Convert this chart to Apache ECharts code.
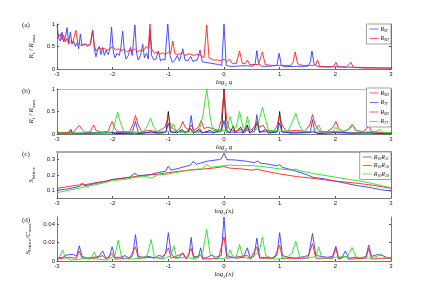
<!DOCTYPE html>
<html><head><meta charset="utf-8">
<script src="https://cdn.jsdelivr.net/npm/echarts@6/dist/echarts.min.js"></script>
<style>html,body{margin:0;padding:0;background:#fff}#c{width:433px;height:296px}</style>
</head><body><div id="c"></div>
<script>
// ---------- DATA (log2 q / log2 x, value) ----------
const xTicks = [-3,-2,-1,0,1,2,3];
const aBlue = [[-3.00,0.98],[-2.97,0.68],[-2.94,0.62],[-2.91,0.82],[-2.88,0.6],[-2.85,0.7],[-2.82,0.92],[-2.79,0.58],[-2.76,0.82],[-2.73,0.55],[-2.7,0.62],[-2.67,0.5],[-2.64,0.58],[-2.61,0.45],[-2.58,0.78],[-2.55,0.52],[-2.5,0.55],[-2.45,0.5],[-2.4,0.55],[-2.36,0.86],[-2.33,0.45],[-2.3,0.27],[-2.27,0.42],[-2.24,0.5],[-2.21,0.32],[-2.18,0.48],[-2.15,0.3],[-2.12,0.42],[-2.08,0.32],[-2.05,0.45],[-2.02,0.93],[-1.99,0.4],[-1.96,0.25],[-1.92,0.35],[-1.88,0.3],[-1.85,0.5],[-1.82,0.84],[-1.79,0.4],[-1.76,0.22],[-1.72,0.3],[-1.68,0.48],[-1.65,0.3],[-1.6,0.98],[-1.57,0.35],[-1.54,0.2],[-1.5,0.3],[-1.46,0.55],[-1.43,0.25],[-1.39,0.35],[-1.36,0.22],[-1.33,0.85],[-1.3,0.3],[-1.26,0.2],[-1.22,0.22],[-1.18,0.4],[-1.14,0.18],[-1.1,0.22],[-1.06,0.2],[-1.01,1.0],[-0.97,0.3],[-0.93,0.15],[-0.88,0.2],[-0.84,0.3],[-0.8,0.18],[-0.74,0.45],[-0.7,0.2],[-0.65,0.18],[-0.6,0.28],[-0.56,0.17],[-0.48,0.2],[-0.43,0.42],[-0.39,0.16],[-0.3,0.14],[-0.2,0.12],[-0.1,0.1],[-0.04,0.08],[0,1.0],[0.04,0.08],[0.1,0.06],[0.2,0.06],[0.3,0.07],[0.42,0.07],[0.52,0.06],[0.56,0.12],[0.59,0.41],[0.62,0.12],[0.68,0.06],[0.8,0.06],[0.95,0.08],[0.99,0.35],[1.03,0.08],[1.1,0.05],[1.3,0.06],[1.5,0.06],[1.55,0.15],[1.58,0.4],[1.62,0.1],[1.7,0.05],[2.0,0.05],[2.3,0.04],[2.6,0.03],[3,0.02]];
const aRed = [[-3,0.8],[-2.97,0.72],[-2.94,0.78],[-2.91,0.65],[-2.88,0.75],[-2.85,0.6],[-2.82,0.68],[-2.79,0.55],[-2.76,0.62],[-2.72,0.58],[-2.69,0.72],[-2.66,0.86],[-2.63,0.6],[-2.6,0.55],[-2.55,0.52],[-2.5,0.56],[-2.45,0.53],[-2.4,0.55],[-2.36,0.86],[-2.33,0.55],[-2.3,0.4],[-2.25,0.48],[-2.2,0.44],[-2.15,0.46],[-2.1,0.42],[-2.05,0.45],[-2.0,0.5],[-1.95,0.42],[-1.9,0.45],[-1.85,0.4],[-1.8,0.44],[-1.75,0.38],[-1.7,0.42],[-1.65,0.4],[-1.6,0.45],[-1.55,0.38],[-1.5,0.42],[-1.45,0.4],[-1.4,0.5],[-1.36,0.45],[-1.33,1.0],[-1.3,0.45],[-1.25,0.35],[-1.2,0.38],[-1.15,0.33],[-1.1,0.36],[-1.05,0.32],[-1.0,0.38],[-0.96,0.34],[-0.92,0.62],[-0.88,0.34],[-0.82,0.32],[-0.75,0.36],[-0.7,0.3],[-0.62,0.34],[-0.55,0.3],[-0.48,0.33],[-0.42,0.3],[-0.36,0.25],[-0.31,0.98],[-0.27,0.25],[-0.2,0.2],[-0.1,0.2],[-0.05,0.18],[0,0.22],[0.05,0.16],[0.1,0.22],[0.15,0.12],[0.22,0.12],[0.28,0.4],[0.33,0.12],[0.38,0.12],[0.42,0.2],[0.46,0.1],[0.55,0.1],[0.62,0.1],[0.69,0.38],[0.74,0.1],[0.85,0.08],[1.0,0.08],[1.2,0.08],[1.24,0.15],[1.28,0.38],[1.32,0.12],[1.4,0.08],[1.6,0.08],[1.65,0.1],[1.68,0.2],[1.72,0.06],[1.9,0.04],[1.97,0.06],[2.01,0.15],[2.05,0.05],[2.2,0.04],[2.28,0.15],[2.32,0.04],[2.5,0.02],[2.8,0.02],[3,0.02]];

const bBlack = [[-3,0.05],[-2.95,0.01],[-2.8,0.02],[-2.75,0.1],[-2.72,0.01],[-2.5,0.01],[-2.3,0.02],[-2.0,0.03],[-1.95,0.01],[-1.6,0.02],[-1.5,0.01],[-1.3,0.05],[-1.2,0.02],[-1.04,0.05],[-1.0,0.5],[-0.96,0.05],[-0.85,0.03],[-0.75,0.1],[-0.7,0.02],[-0.6,0.12],[-0.55,0.02],[-0.45,0.1],[-0.4,0.02],[-0.25,0.08],[-0.2,0.02],[-0.04,0.1],[0,1.0],[0.04,0.1],[0.1,0.02],[0.17,0.18],[0.2,0.03],[0.3,0.15],[0.34,0.02],[0.42,0.2],[0.46,0.02],[0.55,0.12],[0.6,0.25],[0.64,0.03],[0.75,0.1],[0.8,0.02],[0.96,0.05],[1.0,0.5],[1.04,0.05],[1.2,0.02],[1.5,0.03],[1.6,0.05],[1.7,0.01],[2.0,0.03],[2.3,0.02],[2.6,0.03],[2.8,0.01],[3,0.01]];
const bBlue = [[-3,0.01],[-2.6,0.02],[-2.35,0.03],[-2.0,0.03],[-1.65,0.03],[-1.59,0.28],[-1.54,0.03],[-1.1,0.02],[-1.04,0.05],[-1.0,0.24],[-0.96,0.04],[-0.75,0.05],[-0.63,0.05],[-0.59,0.41],[-0.55,0.05],[-0.45,0.04],[-0.42,0.1],[-0.38,0.03],[-0.05,0.05],[0,0.3],[0.04,0.04],[0.38,0.04],[0.42,0.15],[0.46,0.04],[0.55,0.05],[0.59,0.43],[0.63,0.05],[0.95,0.04],[1.0,0.24],[1.04,0.04],[1.55,0.04],[1.59,0.32],[1.63,0.04],[2.0,0.05],[2.3,0.02],[2.6,0.02],[3,0.01]];
const bRed = [[-3,0.03],[-2.7,0.04],[-2.65,0.12],[-2.6,0.19],[-2.55,0.1],[-2.5,0.04],[-2.4,0.05],[-2.37,0.14],[-2.34,0.2],[-2.3,0.08],[-2.2,0.04],[-2.08,0.06],[-2.04,0.2],[-2.01,0.28],[-1.97,0.15],[-1.92,0.05],[-1.7,0.05],[-1.64,0.2],[-1.59,0.41],[-1.54,0.2],[-1.48,0.05],[-1.35,0.08],[-1.2,0.05],[-1.06,0.15],[-1.0,0.39],[-0.95,0.15],[-0.85,0.06],[-0.78,0.15],[-0.74,0.28],[-0.7,0.15],[-0.64,0.1],[-0.59,0.2],[-0.54,0.08],[-0.46,0.15],[-0.41,0.3],[-0.36,0.12],[-0.3,0.15],[-0.2,0.12],[-0.1,0.08],[-0.05,0.3],[0,0.95],[0.05,0.3],[0.1,0.1],[0.2,0.06],[0.3,0.1],[0.4,0.08],[0.5,0.1],[0.55,0.18],[0.59,0.28],[0.64,0.15],[0.7,0.2],[0.76,0.08],[0.9,0.06],[0.95,0.18],[1.0,0.39],[1.05,0.18],[1.12,0.06],[1.3,0.08],[1.45,0.06],[1.54,0.2],[1.59,0.43],[1.64,0.2],[1.72,0.06],[1.85,0.05],[1.96,0.15],[2.01,0.28],[2.06,0.12],[2.15,0.05],[2.26,0.12],[2.31,0.2],[2.36,0.08],[2.5,0.05],[2.56,0.12],[2.6,0.18],[2.65,0.06],[2.8,0.03],[3,0.02]];
const bGreen = [[-3,0.02],[-2.5,0.02],[-2.1,0.03],[-2.0,0.05],[-1.96,0.25],[-1.91,0.49],[-1.86,0.25],[-1.8,0.05],[-1.45,0.04],[-1.38,0.18],[-1.32,0.35],[-1.26,0.15],[-1.2,0.05],[-1.0,0.05],[-0.95,0.12],[-0.91,0.23],[-0.87,0.1],[-0.8,0.04],[-0.45,0.05],[-0.38,0.4],[-0.31,1.0],[-0.25,0.4],[-0.2,0.08],[0.05,0.08],[0.11,0.39],[0.17,0.1],[0.22,0.15],[0.28,0.5],[0.34,0.15],[0.38,0.12],[0.42,0.39],[0.47,0.1],[0.58,0.1],[0.63,0.3],[0.69,0.59],[0.75,0.3],[0.8,0.08],[1.15,0.06],[1.22,0.25],[1.29,0.46],[1.35,0.2],[1.42,0.05],[1.62,0.06],[1.7,0.2],[1.76,0.05],[1.95,0.05],[2.01,0.15],[2.06,0.05],[2.22,0.08],[2.3,0.22],[2.38,0.08],[2.5,0.04],[2.75,0.06],[2.8,0.1],[2.85,0.04],[3,0.03]];

const cBlue = [[-3,0.1],[-2.8,0.11],[-2.6,0.125],[-2.55,0.14],[-2.5,0.13],[-2.3,0.145],[-2.1,0.16],[-2.0,0.172],[-1.9,0.175],[-1.7,0.185],[-1.6,0.212],[-1.55,0.195],[-1.4,0.2],[-1.3,0.205],[-1.2,0.215],[-1.05,0.225],[-1.0,0.258],[-0.95,0.232],[-0.8,0.245],[-0.6,0.265],[-0.55,0.29],[-0.5,0.27],[-0.4,0.28],[-0.3,0.29],[-0.1,0.3],[-0.05,0.305],[0,0.343],[0.05,0.3],[0.2,0.298],[0.4,0.29],[0.55,0.28],[0.6,0.292],[0.65,0.278],[0.8,0.27],[0.95,0.26],[1.0,0.268],[1.05,0.25],[1.3,0.225],[1.5,0.2],[1.6,0.185],[1.8,0.175],[2.0,0.16],[2.2,0.145],[2.4,0.13],[2.6,0.12],[2.8,0.105],[3,0.096]];
const cRed = [[-3,0.113],[-2.8,0.125],[-2.6,0.135],[-2.55,0.145],[-2.5,0.137],[-2.3,0.15],[-2.1,0.162],[-2.0,0.17],[-1.8,0.18],[-1.6,0.19],[-1.4,0.198],[-1.2,0.205],[-1.0,0.215],[-0.8,0.225],[-0.6,0.232],[-0.4,0.238],[-0.2,0.245],[0,0.255],[0.1,0.245],[0.3,0.24],[0.5,0.232],[0.6,0.238],[0.7,0.228],[1.0,0.207],[1.3,0.19],[1.6,0.178],[2.0,0.16],[2.3,0.15],[2.6,0.137],[3,0.113]];
const cGreen = [[-3,0.085],[-2.8,0.1],[-2.6,0.115],[-2.4,0.13],[-2.2,0.145],[-2.0,0.165],[-1.8,0.17],[-1.6,0.185],[-1.4,0.19],[-1.3,0.18],[-1.2,0.2],[-1.0,0.207],[-0.8,0.22],[-0.6,0.235],[-0.4,0.24],[-0.31,0.27],[-0.25,0.25],[0,0.26],[0.1,0.265],[0.3,0.26],[0.5,0.262],[0.7,0.255],[1.0,0.24],[1.2,0.232],[1.29,0.24],[1.35,0.228],[1.6,0.21],[1.8,0.198],[2.0,0.186],[2.3,0.168],[2.6,0.15],[2.8,0.133],[3,0.117]];

const dBlue = [[-3,0.003],[-2.9,0.004],[-2.8,0.007],[-2.7,0.007],[-2.65,0.005],[-2.6,0.0166],[-2.55,0.005],[-2.45,0.003],[-2.35,0.004],[-2.25,0.005],[-2.18,0.011],[-2.12,0.003],[-2.06,0.004],[-2.01,0.0155],[-1.96,0.004],[-1.85,0.004],[-1.78,0.006],[-1.7,0.003],[-1.64,0.006],[-1.59,0.0288],[-1.54,0.005],[-1.45,0.004],[-1.35,0.005],[-1.25,0.003],[-1.18,0.006],[-1.1,0.005],[-1.05,0.008],[-1.0,0.031],[-0.95,0.008],[-0.88,0.003],[-0.8,0.004],[-0.74,0.009],[-0.68,0.003],[-0.63,0.006],[-0.59,0.0256],[-0.55,0.005],[-0.46,0.004],[-0.42,0.0144],[-0.38,0.003],[-0.3,0.004],[-0.22,0.0065],[-0.15,0.004],[-0.05,0.006],[0,0.048],[0.05,0.006],[0.15,0.004],[0.22,0.003],[0.35,0.004],[0.42,0.0144],[0.47,0.003],[0.54,0.005],[0.59,0.025],[0.64,0.004],[0.75,0.004],[0.85,0.003],[0.95,0.006],[1.0,0.031],[1.05,0.006],[1.15,0.004],[1.3,0.003],[1.45,0.005],[1.52,0.006],[1.59,0.03],[1.65,0.006],[1.75,0.005],[1.85,0.004],[1.95,0.005],[2.01,0.016],[2.06,0.003],[2.12,0.004],[2.18,0.011],[2.24,0.003],[2.35,0.004],[2.45,0.003],[2.55,0.005],[2.6,0.0173],[2.65,0.005],[2.75,0.007],[2.85,0.006],[2.95,0.003],[3,0.004]];
const dRed = [[-3,0.002],[-2.8,0.004],[-2.65,0.003],[-2.6,0.011],[-2.55,0.003],[-2.3,0.003],[-2.18,0.006],[-2.12,0.002],[-2.01,0.0083],[-1.96,0.002],[-1.7,0.003],[-1.59,0.0155],[-1.54,0.003],[-1.3,0.004],[-1.1,0.003],[-1.0,0.0144],[-0.95,0.003],[-0.74,0.008],[-0.68,0.002],[-0.59,0.0137],[-0.54,0.003],[-0.42,0.007],[-0.38,0.002],[-0.1,0.003],[0,0.0263],[0.05,0.003],[0.42,0.006],[0.47,0.002],[0.59,0.0155],[0.64,0.003],[0.9,0.003],[1.0,0.0173],[1.05,0.003],[1.5,0.003],[1.59,0.019],[1.65,0.003],[1.95,0.003],[2.01,0.0137],[2.06,0.002],[2.18,0.005],[2.24,0.002],[2.55,0.003],[2.6,0.0137],[2.65,0.002],[2.8,0.003],[3,0.003]];
const dGreen = [[-3,0.002],[-2.95,0.005],[-2.9,0.012],[-2.85,0.004],[-2.75,0.001],[-2.6,0.002],[-2.5,0.003],[-2.4,0.002],[-2.33,0.01],[-2.27,0.002],[-2.1,0.001],[-1.96,0.006],[-1.9,0.0227],[-1.84,0.004],[-1.7,0.002],[-1.5,0.003],[-1.38,0.006],[-1.31,0.0234],[-1.25,0.004],[-1.1,0.002],[-0.95,0.006],[-0.9,0.0166],[-0.85,0.003],[-0.7,0.004],[-0.5,0.002],[-0.38,0.01],[-0.31,0.0346],[-0.25,0.008],[-0.15,0.002],[0,0.003],[0.05,0.004],[0.11,0.012],[0.17,0.003],[0.22,0.005],[0.28,0.018],[0.34,0.004],[0.45,0.003],[0.63,0.01],[0.69,0.026],[0.75,0.006],[0.9,0.002],[1.1,0.003],[1.22,0.008],[1.29,0.0216],[1.36,0.004],[1.5,0.003],[1.65,0.005],[1.7,0.0155],[1.76,0.003],[2.0,0.004],[2.22,0.005],[2.3,0.0148],[2.38,0.004],[2.6,0.003],[2.75,0.005],[2.82,0.008],[2.9,0.003],[3,0.004]];

const legA = ['R|9F','R|9D'];
const legB = ['R|9D','R|7F','R|8D','R|7T'];
const legC = ['R|10|R|11','R|10|R|16','R|10|R|18'];

// ---------- CHART ----------
const BLUE='#3a3aff', RED='#ff2020', GREEN='#22e022', BLACK='#111';
const chart = echarts.init(document.getElementById('c'), null, {renderer:'canvas'});
const grids = [
  {left:57,right:42,top:24,height:45},
  {left:57,right:42,top:89,height:45},
  {left:57,right:42,top:152,height:46},
  {left:57,right:42,top:217,height:44}
];
const xNames = ['{n|log}{s|2}{n| q}','{n|log}{s|2}{n| q}','{n|log}{s|2}{n|(x)}','{n|log}{s|2}{n|(x)}'];
const richName = {n:{fontSize:7,fontFamily:'Liberation Serif',fontStyle:'italic',color:'#222'},
                  s:{fontSize:5,fontFamily:'Liberation Serif',color:'#222',padding:[4,0,0,0]}};
const xAxes=[], yAxes=[];
grids.forEach((g,i)=>{
  xAxes.push({gridIndex:i,type:'value',min:-3,max:3,interval:1,
    name:xNames[i],nameLocation:'middle',nameGap:9,nameTextStyle:{rich:richName},
    axisLine:{onZero:false,lineStyle:{color:'#555',width:0.8}},axisTick:{inside:true,length:2,lineStyle:{color:'#555'}},
    axisLabel:{fontSize:6,margin:2,color:'#222',fontFamily:'Liberation Sans'},splitLine:{show:false}});
  xAxes.push({gridIndex:i,type:'value',min:-3,max:3,interval:1,position:'top',
    axisLine:{onZero:false,show:(i===1||i===2),lineStyle:{color:'#aaa',width:i===2?2:0.8}},
    axisTick:{show:false},axisLabel:{show:false},splitLine:{show:false}});
});
const yCfg = [
  {min:0,max:1,vals:[0,0.5,1],name:'{n|R}{s|i}{n| / R}{s|max}'},
  {min:0,max:1,vals:[0,0.5,1],name:'{n|R}{s|i}{n| / R}{s|max}'},
  {min:0.05,max:0.35,vals:[0.1,0.2,0.3],name:'{n|S}{s|lattice}'},
  {min:0,max:0.048,vals:[0,0.02,0.04],name:'{n|S}{s|lattice}{n|/C}{s|max}'}
];
yCfg.forEach((c,i)=>{
  yAxes.push({gridIndex:i,type:'value',min:c.min,max:c.max,
    name:c.name,nameLocation:'middle',nameGap:i===3?19:12,nameTextStyle:{rich:richName},
    axisLine:{show:true,onZero:false,lineStyle:{color:'#555',width:0.8}},
    axisTick:{inside:true,length:2,customValues:c.vals,lineStyle:{color:'#555'}},
    axisLabel:{fontSize:6,margin:2,color:'#222',fontFamily:'Liberation Sans',customValues:c.vals,
      formatter:v=>String(+v.toFixed(3))},
    splitLine:{show:false}});
  yAxes.push({gridIndex:i,type:'value',min:c.min,max:c.max,position:'right',
    axisLine:{show:true,onZero:false,lineStyle:{color:'#555',width:0.8}},
    axisTick:{inside:true,length:2,customValues:c.vals,lineStyle:{color:'#555'}},
    axisLabel:{show:false},splitLine:{show:false}});
});
function ser(name,data,color,gi,w){
  return {name,type:'line',data,xAxisIndex:gi*2,yAxisIndex:gi*2,showSymbol:false,symbol:'none',
    lineStyle:{color,width:w||0.9},itemStyle:{color},animation:false,z:3};
}
const series = [
  ser(legA[0],aBlue,BLUE,0), ser(legA[1],aRed,RED,0),
  ser(legB[0],bBlack,BLACK,1), ser(legB[1],bBlue,BLUE,1), ser(legB[2],bRed,RED,1), ser(legB[3],bGreen,GREEN,1),
  ser(legC[0],cBlue,BLUE,2), ser(legC[1],cRed,RED,2), ser(legC[2],cGreen,GREEN,2),
  ser('dB',dBlue,BLUE,3), ser('dR',dRed,RED,3), ser('dG',dGreen,GREEN,3)
];
const richLeg = {n:{fontSize:6,fontFamily:'Liberation Serif',fontStyle:'italic',color:'#222'},
                 s:{fontSize:4,fontFamily:'Liberation Serif',fontStyle:'italic',color:'#222',padding:[3,0,0,0]}};
function fmtLeg(name){
  const p=name.split('|'); let out='';
  for(let k=0;k<p.length;k+=2){ out+='{n|'+p[k]+'}'+'{s|'+(p[k+1]||'')+'}'; }
  return out;
}
function legend(names,top,gap){
  return {data:names,orient:'vertical',right:42,top,itemWidth:9,itemHeight:4,itemGap:gap,
    icon:'path://M0,2h10v0.8h-10z',
    backgroundColor:'#fff',borderColor:'#666',borderWidth:0.6,padding:[2,2,2,3],
    textStyle:{rich:richLeg,padding:[0,0,0,-3]},formatter:fmtLeg,selectedMode:false};
}
const labels=['(a)','(b)','(c)','(d)'], ly=[22,88,151,217];
chart.setOption({
  animation:false,
  grid:grids, xAxis:xAxes, yAxis:yAxes, series,
  legend:[legend(legA,24,3),legend(legB,88,3),legend(legC,152,2)],
  graphic:labels.map((t,i)=>({type:'text',left:22,top:ly[i],style:{text:t,fontSize:7,fontFamily:'Liberation Serif',fill:'#222'}}))
});
</script></body></html>
